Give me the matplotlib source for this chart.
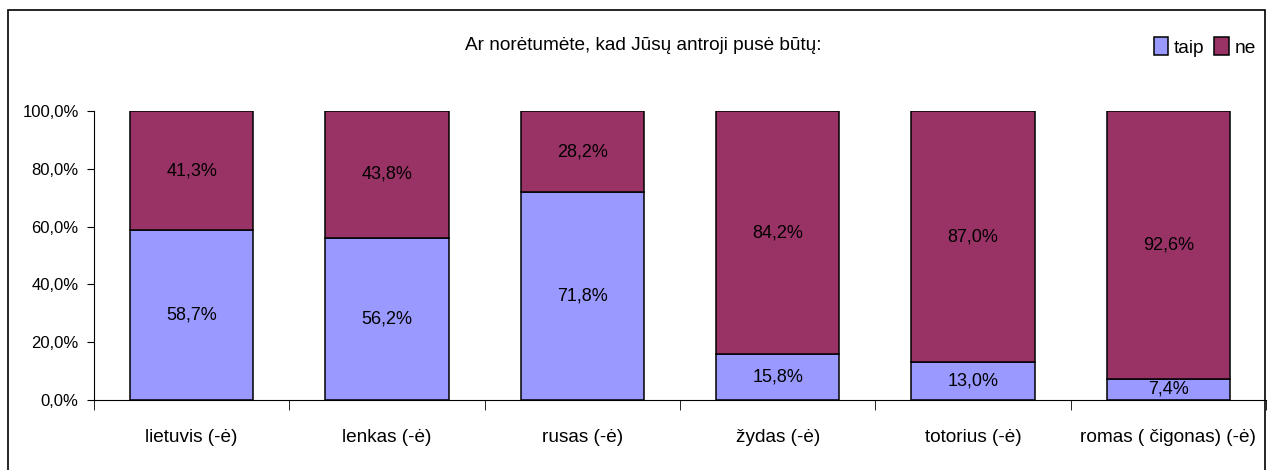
import numpy as np
import matplotlib.pyplot as plt
from matplotlib.patches import Rectangle

plt.rcParams['font.family'] = ['Liberation Sans', 'DejaVu Sans']

categories = ['lietuvis (-ė)', 'lenkas (-ė)', 'rusas (-ė)', 'žydas (-ė)',
              'totorius (-ė)', 'romas ( čigonas) (-ė)']
taip = [58.7, 56.2, 71.8, 15.8, 13.0, 7.4]
ne = [41.3, 43.8, 28.2, 84.2, 87.0, 92.6]
yticks = [0, 20, 40, 60, 80, 100]

def pct(v):
    return '{:.1f}%'.format(v).replace('.', ',')

fig = plt.figure(figsize=(12.68, 4.70), dpi=100)
# outer chart frame
fig.patches.append(Rectangle((8 / 1268, -0.05), 1257 / 1268, 1.05 - 10 / 470,
                             transform=fig.transFigure, fill=False,
                             edgecolor='black', linewidth=1.2))
ax = fig.add_axes([94 / 1268, 70 / 470, 1172 / 1268, 289 / 470])

x = np.arange(len(categories))
w = 0.63
b1 = ax.bar(x, taip, w, color='#9999FF', edgecolor='black', linewidth=1.1, label='taip')
b2 = ax.bar(x, ne, w, bottom=taip, color='#993366', edgecolor='black', linewidth=1.1, label='ne')

for i in range(len(categories)):
    ax.text(x[i], taip[i] / 2, pct(taip[i]), ha='center', va='center', fontsize=13)
    ax.text(x[i], taip[i] + ne[i] / 2, pct(ne[i]), ha='center', va='center', fontsize=13)

ax.set_xlim(-0.5, len(categories) - 0.5)
ax.set_ylim(0, 100)
ax.set_yticks(yticks)
ax.set_yticklabels([pct(v) for v in yticks], fontsize=12)
ax.set_xticks(x)
ax.set_xticklabels(categories, fontsize=13.7)
ax.set_xticks(np.arange(-0.5, len(categories)), minor=True)
ax.tick_params(axis='x', which='major', length=0, pad=21)
ax.tick_params(axis='x', which='minor', length=7, direction='out')
ax.tick_params(axis='y', length=5, direction='out', pad=6)
ax.spines['top'].set_visible(False)
ax.spines['right'].set_visible(False)

fig.text(643 / 1268, 1 - 45 / 470, 'Ar norėtumėte, kad Jūsų antroji pusė būtų:',
         ha='center', va='center', fontsize=13.7)
fig.legend(handles=[b1, b2], loc='center', bbox_to_anchor=(1205 / 1268, 1 - 47 / 470),
           ncol=2, frameon=False, fontsize=13.8, handlelength=0.75, handleheight=1.0,
           handletextpad=0.3, columnspacing=0.5)

fig.savefig('out.png', dpi=100)
